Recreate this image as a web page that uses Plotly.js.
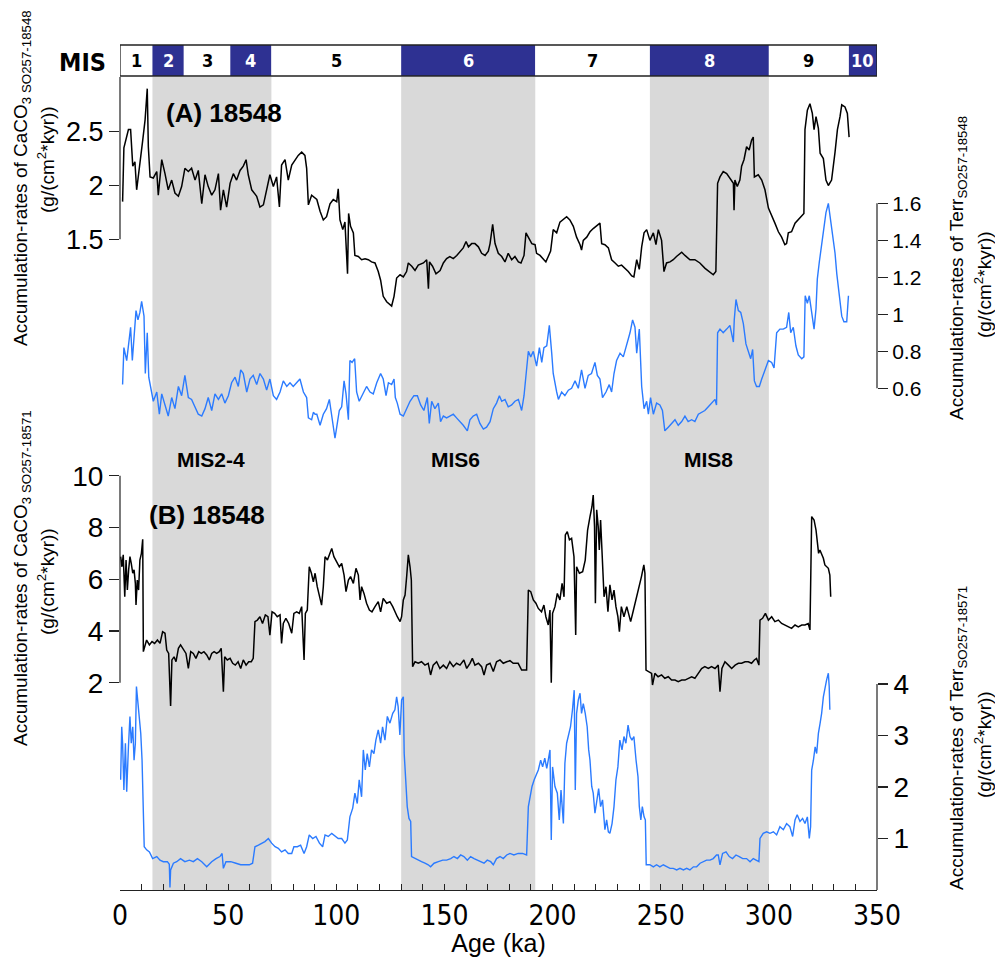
<!DOCTYPE html>
<html><head><meta charset="utf-8">
<script src="https://cdn.plot.ly/plotly-3.0.1.min.js"></script>
<style>html,body{margin:0;padding:0;background:#fff}#chart{width:995px;height:957px}</style>
</head><body><div id="chart"></div>
<script>
// ---------------- DATA ----------------
const ageCaco3A = [1.2,1.8,3.9,4.9,5.9,6.9,7.7,8.9,10.5,11.6,12.6,13.1,13.9,15.4,17.0,17.7,19.3,20.8,22.3,23.9,25.4,27.0,28.5,30.0,31.6,33.1,34.7,36.2,37.8,39.3,40.8,42.4,43.9,45.5,46.5,47.8,49.3,50.9,52.4,53.9,55.5,57.0,58.3,59.3,60.9,63.2,64.7,66.3,67.8,69.3,70.9,72.4,73.7,74.7,76.3,77.8,79.4,80.9,82.4,84.0,85.5,86.3,87.1,88.6,90.2,91.0,92.5,94.0,95.5,97.1,98.6,100.2,100.9,101.7,103.0,104.0,105.2,105.7,106.6,107.9,108.6,110.2,111.7,113.3,114.8,116.3,117.9,119.4,120.5,121.7,123.3,124.8,125.6,126.7,127.9,129.5,131.0,132.5,133.3,134.9,136.4,137.9,140.3,141.8,142.6,143.1,144.5,146.1,148.0,149.5,151.0,152.5,154.1,155.7,157.2,158.7,160.0,161.1,162.6,164.1,165.7,167.2,168.8,170.3,171.1,172.3,173.4,174.9,176.5,178.0,179.5,181.1,182.6,184.2,185.4,186.8,187.7,188.8,190.4,191.9,192.6,194.2,195.7,196.9,198.0,199.1,200.3,201.9,203.4,205.0,206.5,208.0,209.6,211.1,212.7,213.4,214.2,215.8,217.3,218.8,220.4,221.9,222.7,224.2,225.8,227.3,228.9,230.4,231.9,233.5,235.0,236.6,237.6,238.9,240.1,241.2,242.3,243.5,245.0,246.6,247.8,248.9,250.4,251.5,252.7,254.3,255.8,257.3,259.7,261.2,263.5,265.8,268.1,270.5,272.8,274.3,275.5,276.3,277.4,278.9,280.5,282.0,283.6,283.9,284.3,285.4,286.6,287.4,288.5,289.7,290.9,292.0,292.8,293.3,295.1,296.7,298.2,299.8,301.3,302.8,304.4,305.9,307.4,308.2,309.0,310.5,312.1,313.6,315.2,316.2,316.7,317.8,319.0,320.1,320.9,321.8,322.9,323.7,325.2,326.4,327.5,329.0,330.6,331.7,332.9,333.7,335.2,336.3,337.1];
const caco3A = [1.85,2.35,2.52,2.52,2.18,2.22,1.96,2.18,2.42,2.61,2.90,2.36,2.08,2.07,2.13,1.91,2.24,2.11,1.96,2.05,1.93,1.90,1.99,2.16,2.13,2.16,2.05,2.14,1.83,2.10,1.99,1.91,1.96,2.11,1.77,1.96,1.80,2.02,2.11,2.05,2.14,2.18,2.24,2.10,1.96,1.90,1.80,1.82,1.96,2.10,1.99,2.08,1.80,2.19,2.24,2.05,2.19,2.24,2.28,2.31,2.28,2.16,1.82,1.91,1.88,1.87,1.76,1.68,1.71,1.83,1.87,1.85,1.97,1.68,1.59,1.66,1.18,1.74,1.62,1.56,1.35,1.34,1.31,1.32,1.31,1.29,1.28,1.20,1.12,0.97,0.92,0.89,0.88,0.97,1.14,1.17,1.15,1.20,1.28,1.25,1.21,1.26,1.28,1.31,1.04,1.29,1.25,1.18,1.21,1.28,1.32,1.34,1.32,1.35,1.39,1.42,1.48,1.43,1.46,1.46,1.43,1.37,1.35,1.39,1.46,1.64,1.46,1.37,1.34,1.29,1.37,1.31,1.34,1.29,1.28,1.35,1.56,1.52,1.46,1.45,1.37,1.35,1.32,1.29,1.34,1.39,1.59,1.56,1.66,1.69,1.71,1.68,1.62,1.52,1.45,1.40,1.49,1.52,1.57,1.60,1.63,1.65,1.46,1.45,1.42,1.31,1.28,1.25,1.26,1.23,1.20,1.16,1.15,1.31,1.22,1.43,1.56,1.59,1.49,1.56,1.45,1.59,1.49,1.20,1.28,1.29,1.31,1.34,1.38,1.35,1.31,1.31,1.28,1.23,1.19,1.17,1.20,2.02,2.08,2.13,2.11,2.07,2.02,1.77,2.05,1.99,2.05,2.18,2.24,2.36,2.33,2.42,2.45,2.08,2.10,2.05,1.96,1.79,1.71,1.65,1.57,1.52,1.45,1.46,1.56,1.57,1.65,1.68,1.71,1.74,2.52,2.70,2.76,2.67,2.52,2.64,2.53,2.30,2.25,2.05,2.00,2.05,2.31,2.52,2.64,2.75,2.73,2.67,2.45];

const ageTerrA = [1.2,1.8,3.1,3.9,4.9,5.7,6.5,7.4,8.3,9.2,10.0,11.1,11.7,12.6,13.3,14.2,15.4,17.0,18.2,19.3,20.8,22.3,23.9,25.4,27.0,28.5,30.0,31.6,33.1,34.7,36.2,37.8,39.3,40.8,42.4,43.9,45.5,47.0,48.5,50.1,51.6,53.2,54.7,55.8,57.0,58.6,60.1,61.6,63.2,64.7,66.3,67.8,69.3,70.9,72.4,74.0,75.5,77.1,78.6,80.1,81.7,83.2,84.8,86.3,87.1,88.6,89.4,90.2,91.0,92.5,94.0,95.5,96.8,97.8,99.4,100.2,101.4,102.5,103.6,104.5,105.6,106.3,107.3,108.5,109.4,110.6,112.2,114.0,115.6,117.1,118.7,120.5,121.7,123.0,124.1,125.6,126.7,127.3,128.2,129.5,131.0,132.5,134.1,135.9,137.5,139.0,140.5,142.1,143.0,144.1,145.6,147.2,148.2,149.5,151.0,152.5,154.1,155.6,157.2,158.7,160.6,161.8,163.3,164.9,166.4,168.0,169.5,171.1,172.6,174.1,175.4,176.5,178.0,179.5,181.1,182.6,184.2,185.7,186.8,187.7,188.8,189.9,191.1,192.6,193.9,195.0,196.0,197.3,198.5,199.6,200.3,201.9,202.7,204.2,205.7,207.3,208.8,210.4,211.9,213.4,215.0,216.5,218.0,219.6,220.7,221.9,223.1,224.7,226.2,227.3,228.4,229.6,231.2,232.7,234.2,235.8,237.0,238.1,238.9,240.1,241.2,242.3,243.5,244.3,245.3,246.6,248.1,249.6,250.8,251.9,253.5,255.0,256.6,258.1,259.7,261.2,262.7,264.3,265.8,267.4,268.9,270.4,272.0,273.5,275.1,275.8,276.3,277.4,278.9,280.5,282.0,283.6,284.0,284.8,285.9,287.0,288.2,289.4,290.6,291.6,292.5,293.3,294.3,295.6,296.7,298.2,299.8,301.3,302.4,303.6,305.1,306.7,308.2,309.2,310.1,311.3,312.5,313.6,315.2,316.2,316.8,317.8,318.7,319.8,320.9,321.8,322.4,323.3,324.4,325.5,326.4,327.5,328.5,329.5,330.6,331.4,332.6,333.7,334.7,336.0,336.8];
const terrA = [0.62,0.82,0.75,0.83,0.93,0.75,0.86,1.02,0.97,1.01,1.07,0.99,0.68,0.90,0.66,0.61,0.53,0.58,0.46,0.57,0.51,0.45,0.55,0.49,0.61,0.56,0.67,0.55,0.54,0.50,0.46,0.45,0.49,0.55,0.48,0.57,0.54,0.57,0.52,0.56,0.63,0.66,0.61,0.70,0.68,0.58,0.65,0.67,0.62,0.68,0.65,0.59,0.65,0.56,0.54,0.58,0.64,0.61,0.63,0.61,0.63,0.65,0.58,0.55,0.44,0.43,0.47,0.46,0.46,0.40,0.46,0.49,0.54,0.46,0.33,0.39,0.48,0.50,0.64,0.57,0.43,0.75,0.74,0.76,0.58,0.53,0.57,0.61,0.58,0.57,0.63,0.68,0.65,0.56,0.63,0.62,0.65,0.55,0.52,0.46,0.45,0.49,0.53,0.56,0.56,0.51,0.48,0.55,0.41,0.53,0.49,0.52,0.42,0.45,0.44,0.45,0.46,0.44,0.42,0.40,0.37,0.43,0.45,0.46,0.41,0.38,0.39,0.42,0.49,0.52,0.56,0.53,0.54,0.50,0.51,0.53,0.54,0.48,0.56,0.68,0.80,0.77,0.80,0.72,0.82,0.74,0.82,0.83,0.94,0.79,0.68,0.58,0.54,0.58,0.56,0.59,0.60,0.64,0.60,0.70,0.60,0.67,0.68,0.74,0.67,0.65,0.55,0.58,0.62,0.58,0.68,0.75,0.79,0.77,0.83,0.90,0.97,0.93,0.79,0.92,0.61,0.49,0.53,0.46,0.55,0.46,0.52,0.51,0.48,0.37,0.39,0.41,0.43,0.40,0.42,0.45,0.42,0.43,0.42,0.46,0.47,0.48,0.50,0.52,0.54,0.51,0.90,0.92,0.90,0.92,0.94,0.85,0.97,1.08,1.02,1.01,0.95,0.84,0.80,0.76,0.81,0.64,0.61,0.61,0.65,0.70,0.75,0.74,0.71,0.90,0.92,0.92,0.93,1.01,0.90,0.93,0.83,0.78,0.76,0.77,1.10,1.06,1.10,1.01,0.92,1.03,1.19,1.28,1.38,1.47,1.55,1.60,1.51,1.44,1.33,1.22,1.10,0.99,0.96,0.96,1.10];

const ageCaco3B = [0.3,0.9,1.5,2.2,2.8,3.4,4.0,4.6,5.2,5.9,6.5,7.1,7.4,8.0,8.6,9.2,9.9,10.5,10.8,11.4,12.3,13.6,14.8,16.0,17.3,18.5,19.7,20.8,21.6,22.5,23.4,24.0,25.0,25.9,27.0,28.0,29.3,30.5,31.6,32.7,33.9,35.1,36.4,37.6,38.8,40.1,41.3,42.4,43.5,44.7,45.9,46.8,47.8,48.4,49.6,50.9,52.1,53.3,54.6,55.8,57.0,58.3,59.5,60.7,61.6,62.4,63.5,64.7,65.9,67.2,68.4,69.3,70.3,71.5,72.7,74.0,74.7,75.5,76.7,78.0,79.4,80.4,81.7,82.9,84.0,85.1,85.7,86.6,87.5,88.5,89.4,90.2,91.2,92.5,93.2,94.0,94.8,95.9,96.8,97.9,98.9,100.2,101.4,102.5,103.6,104.5,105.6,106.6,107.9,109.1,110.2,111.0,111.7,112.8,114.0,115.3,116.5,117.9,119.4,120.5,121.7,123.3,124.8,126.1,127.1,128.2,129.5,130.2,131.0,131.8,132.6,133.3,134.1,134.7,135.3,136.4,137.9,139.4,141.0,142.5,143.6,144.8,146.4,147.9,149.5,151.0,152.5,154.1,155.6,157.2,159.0,160.3,161.8,162.9,164.1,165.7,167.2,168.3,169.5,171.1,172.6,174.1,175.7,177.2,178.8,180.3,181.8,184.1,185.7,188.0,188.8,189.9,191.1,192.3,193.4,194.9,196.0,196.9,198.0,198.8,199.4,200.0,201.1,202.2,203.4,204.4,205.3,205.9,206.8,207.8,208.8,209.9,210.7,211.1,212.4,213.9,215.1,216.2,217.3,218.2,218.8,219.4,219.8,220.4,221.1,221.6,222.2,222.9,223.8,224.7,225.6,226.5,227.5,228.4,229.3,230.2,230.9,231.8,233.0,234.3,235.2,236.1,237.4,238.6,239.8,241.1,242.2,242.7,243.2,244.2,245.8,246.2,247.3,248.8,250.4,251.9,253.5,255.0,256.6,258.1,259.7,261.2,262.7,264.3,265.8,267.4,268.9,270.4,272.0,273.5,275.1,276.6,277.4,278.3,279.7,281.3,282.8,284.4,285.9,287.4,289.0,290.5,292.0,293.3,294.3,295.4,295.9,297.1,298.4,299.8,301.3,302.8,304.4,305.9,307.4,309.0,310.5,312.1,313.6,315.2,316.7,318.2,319.0,319.8,320.9,321.8,322.4,323.0,323.6,324.4,325.2,325.9,326.7,327.5,328.2,328.6];
const caco3B = [6.87,6.48,6.94,5.32,6.74,5.58,6.36,6.87,6.61,6.23,6.36,5.84,5.00,5.97,5.58,6.74,7.00,7.54,3.20,3.39,3.65,3.46,3.59,3.52,3.65,3.52,3.97,3.91,3.26,3.13,1.10,2.88,3.00,2.81,3.33,3.46,3.26,3.13,2.55,3.20,3.13,2.94,3.20,3.13,3.20,3.07,2.88,3.13,3.20,3.13,3.20,3.33,1.65,3.00,2.88,2.94,2.75,2.68,2.81,2.55,2.88,2.68,2.81,2.81,2.94,4.36,4.42,4.55,4.29,4.62,4.55,3.84,4.74,4.68,4.55,4.62,3.52,4.29,4.49,4.29,3.91,4.68,4.74,4.68,4.94,2.88,4.68,4.81,6.48,6.23,5.90,6.23,5.71,5.20,5.00,5.71,6.87,6.74,6.94,7.19,6.87,6.68,6.48,6.61,6.16,5.52,5.97,6.10,5.84,6.42,6.16,5.20,5.71,5.45,5.07,4.81,4.74,4.94,5.13,4.74,5.26,5.07,5.13,4.94,4.74,4.55,4.36,4.55,5.20,5.39,6.16,6.94,6.48,5.97,2.62,2.81,2.75,2.81,2.68,2.75,2.30,2.68,2.81,2.55,2.68,2.55,2.81,2.62,2.75,2.68,2.88,2.55,2.75,2.94,2.68,2.75,2.62,2.30,2.68,2.75,2.43,2.81,2.88,2.75,2.81,2.85,2.75,2.75,2.49,2.49,5.58,5.52,5.20,5.07,4.87,4.74,5.00,4.55,4.23,4.81,2.00,4.68,4.94,5.45,5.20,5.84,5.32,7.71,7.84,7.52,7.58,6.87,3.84,6.48,6.23,6.29,6.74,7.90,8.42,8.80,9.25,8.03,5.07,8.68,8.03,7.13,8.29,7.00,5.32,5.71,4.74,5.78,5.20,5.58,4.94,4.55,3.97,4.94,4.55,4.94,4.62,4.36,4.81,5.20,5.65,6.10,6.55,6.23,2.49,2.43,2.36,1.91,2.36,2.23,2.30,2.17,2.23,2.10,2.10,2.04,2.10,2.10,2.17,2.23,2.17,2.36,2.55,2.62,2.55,2.62,2.55,2.68,1.65,2.55,2.81,2.68,2.55,2.68,2.75,2.75,2.81,2.81,2.75,2.88,2.94,2.68,4.42,4.49,4.68,4.42,4.55,4.36,4.42,4.29,4.23,4.16,4.10,4.23,4.16,4.23,4.23,4.29,4.04,8.42,8.29,7.90,7.52,7.00,7.13,6.94,6.81,6.55,6.48,6.42,6.16,5.32];

const ageTerrB = [0.3,0.8,1.2,1.8,2.5,3.1,3.9,4.6,5.2,5.9,6.5,7.1,7.6,8.3,8.9,9.6,10.2,10.8,11.2,12.3,13.6,15.1,17.0,18.5,20.0,21.9,22.8,23.1,23.4,24.7,26.2,28.0,30.0,32.1,33.9,35.8,37.8,40.1,42.4,44.4,46.2,47.2,47.8,49.0,51.2,53.6,55.8,57.8,59.8,61.3,62.4,64.0,65.5,67.0,68.6,70.1,71.7,73.2,74.7,76.3,77.8,79.4,80.4,82.0,83.5,85.1,86.3,87.5,89.1,90.6,92.2,93.7,94.8,96.3,97.9,99.4,100.9,102.5,104.0,105.1,106.3,107.6,108.6,109.7,110.6,111.7,112.5,113.4,114.3,115.3,116.3,117.4,118.3,119.4,120.5,121.4,122.5,123.6,124.8,126.1,127.1,127.9,128.6,129.4,130.2,131.0,131.4,132.1,132.8,133.6,134.4,134.8,136.4,137.9,139.4,141.0,142.5,143.6,145.2,147.2,149.2,151.0,152.9,154.4,156.0,157.5,159.0,160.6,162.1,163.7,165.2,166.7,168.3,169.8,171.4,172.6,174.1,175.7,177.2,178.8,180.3,182.1,184.1,186.1,188.0,188.8,189.6,190.5,191.5,192.3,193.4,194.5,195.4,196.4,197.3,198.0,198.8,199.4,200.0,201.1,202.2,203.1,203.9,205.0,205.7,206.5,207.4,208.3,209.2,210.0,210.5,211.1,211.9,212.7,213.4,214.2,215.1,216.0,216.7,217.3,218.1,218.8,219.6,220.4,221.3,222.2,223.1,224.2,225.0,225.8,226.5,227.5,228.4,229.3,230.2,231.1,232.1,233.0,233.9,234.9,235.8,236.7,237.6,238.6,239.5,240.1,240.8,241.5,242.3,242.9,243.3,245.0,246.6,248.1,249.6,251.2,252.7,254.3,255.8,257.4,258.9,260.5,262.0,263.5,265.1,266.6,268.2,269.7,271.2,272.8,274.3,275.8,276.6,277.4,278.6,280.2,281.7,283.2,284.8,286.3,287.9,289.7,291.3,292.8,294.3,295.4,295.9,297.4,299.0,300.5,302.1,303.6,305.1,306.7,308.2,309.7,311.0,312.1,313.1,314.4,315.6,316.7,317.8,318.7,319.3,319.8,320.6,321.4,322.1,322.9,323.7,324.4,325.2,326.0,326.7,327.5,327.9,328.2];
const terrB = [2.14,3.17,2.85,1.94,2.85,1.91,2.78,3.37,2.85,3.17,2.52,2.85,3.95,3.62,3.37,3.04,2.52,1.55,0.84,0.78,0.74,0.61,0.65,0.58,0.55,0.55,0.50,0.05,0.39,0.52,0.55,0.61,0.55,0.58,0.55,0.61,0.55,0.45,0.55,0.61,0.65,0.71,0.42,0.55,0.55,0.52,0.49,0.49,0.49,0.52,0.84,0.87,0.91,0.94,1.00,0.91,0.84,0.81,0.74,0.78,0.71,0.71,0.84,0.84,0.87,0.71,0.84,1.07,1.00,1.04,0.91,0.84,1.07,1.04,1.10,1.04,1.00,1.00,0.91,0.97,1.42,1.59,1.88,1.68,2.14,1.81,2.72,2.33,2.65,2.39,2.72,2.65,2.91,3.11,2.85,3.17,2.91,3.37,3.24,3.43,3.50,3.75,3.56,3.01,3.69,3.75,2.65,2.14,1.62,1.39,1.33,0.65,0.61,0.58,0.55,0.52,0.49,0.45,0.52,0.55,0.58,0.58,0.61,0.65,0.61,0.68,0.65,0.58,0.65,0.61,0.58,0.55,0.52,0.58,0.55,0.49,0.61,0.65,0.61,0.68,0.71,0.68,0.71,0.71,0.68,1.62,1.81,2.01,2.14,2.23,2.33,2.52,2.39,2.56,2.36,2.52,2.72,0.97,2.39,2.01,1.88,1.36,1.94,1.29,2.46,2.85,3.04,3.17,3.50,3.88,1.94,3.43,3.69,3.82,3.43,3.62,3.43,3.17,2.72,2.52,2.01,1.88,1.49,1.75,1.97,1.62,1.75,1.17,1.36,1.13,1.10,1.29,1.62,2.14,2.39,2.91,2.72,2.98,2.85,3.20,2.98,2.91,2.98,2.52,2.20,1.62,1.36,1.62,1.42,1.36,0.49,0.49,0.45,0.49,0.45,0.49,0.45,0.42,0.42,0.39,0.42,0.39,0.42,0.39,0.45,0.45,0.52,0.55,0.58,0.58,0.61,0.68,0.68,0.49,0.71,0.74,0.65,0.61,0.68,0.65,0.61,0.61,0.55,0.61,0.58,0.55,1.00,1.10,1.13,1.10,1.13,1.07,1.23,1.17,1.29,1.23,1.04,1.36,1.46,1.33,1.39,1.29,1.42,1.00,1.23,2.33,2.52,2.78,2.65,3.04,3.24,3.43,3.75,3.95,4.08,4.21,3.95,3.50];

// Stage boundaries (ka) and labels
const misBounds = [0,15,29.5,51,70,130,192,245,300,337,350];
const misLabels = ['1','2','3','4','5','6','7','8','9','10'];
const glacialBands = [[15,70],[130,192],[245,300]];
const bandLabels = ['MIS2-4','MIS6','MIS8'];
const bandLabelAge = [42,155,272];

const xTicks = [0,50,100,150,200,250,300,350];
const caco3ATicks = [1.5,2,2.5];       const caco3ATickText = ['1.5','2','2.5'];
const terrATicks = [0.6,0.8,1,1.2,1.4,1.6]; const terrATickText = ['0.6','0.8','1','1.2','1.4','1.6'];
const caco3BTicks = [2,4,6,8,10];      const caco3BTickText = ['2','4','6','8','10'];
const terrBTicks = [1,2,3,4];          const terrBTickText = ['1','2','3','4'];

// ---------------- GEOMETRY ----------------
const W = 995, H = 957, L = 120, R = 877, T = 77, B = 890;
const px = p => (p - L) / (R - L);
const py = p => (B - p) / (B - T);
function rangeFor(v1, p1, v2, p2) {
  const k = (v2 - v1) / (p1 - p2);
  return [v1 - (B - p1) * k, v1 + (p1 - T) * k];
}
const rA1 = rangeFor(1.5, 239.3, 2.5, 131.7);
const rA2 = rangeFor(0.6, 388.3, 1.6, 203.3);
const rB1 = rangeFor(2, 682.7, 10, 475.7);
const rB2 = rangeFor(0, 890, 4, 684);

const SANS = 'Liberation Sans, Arial, Helvetica, sans-serif';
const NARROW = 'Liberation Sans Narrow, Arial Narrow, DejaVu Sans Condensed, Liberation Sans, Arial, sans-serif';
const BLUE = '#2b7bff';
const NAVY = '#2e3192';

const traces = [
  {x: ageCaco3A, y: caco3A, yaxis: 'y',  type: 'scatter', mode: 'lines', line: {color: '#000', width: 1.5}, hoverinfo: 'skip'},
  {x: ageTerrA,  y: terrA,  yaxis: 'y2', type: 'scatter', mode: 'lines', line: {color: BLUE, width: 1.4}, hoverinfo: 'skip'},
  {x: ageCaco3B, y: caco3B, yaxis: 'y3', type: 'scatter', mode: 'lines', line: {color: '#000', width: 1.5}, hoverinfo: 'skip'},
  {x: ageTerrB,  y: terrB,  yaxis: 'y4', type: 'scatter', mode: 'lines', line: {color: BLUE, width: 1.4}, hoverinfo: 'skip'}
];

const shapes = [];
glacialBands.forEach(b => shapes.push({type: 'rect', xref: 'x', yref: 'paper', x0: b[0], x1: b[1], y0: 0, y1: 1,
  fillcolor: '#d9d9d9', line: {width: 0}, layer: 'below'}));
// MIS bar
const barY0 = py(76), barY1 = py(45);
for (let i = 0; i < misLabels.length; i++) {
  const blue = (i % 2 === 1);
  shapes.push({type: 'rect', xref: 'x', yref: 'paper', x0: misBounds[i], x1: misBounds[i + 1], y0: barY0, y1: barY1,
    fillcolor: blue ? NAVY : '#ffffff', line: {width: 0}});
}
shapes.push({type: 'rect', xref: 'x', yref: 'paper', x0: 0, x1: 350, y0: barY0, y1: barY1, line: {color: '#222', width: 1.3}});
// axis spines
shapes.push({type: 'line', xref: 'paper', yref: 'y',  x0: 0, x1: 0, y0: 1.5, y1: rA1[1], line: {color: '#222', width: 1.2}});
shapes.push({type: 'line', xref: 'paper', yref: 'y2', x0: 1, x1: 1, y0: 0.6, y1: 1.6, line: {color: '#222', width: 1.2}});
shapes.push({type: 'line', xref: 'paper', yref: 'y3', x0: 0, x1: 0, y0: 2, y1: 10, line: {color: '#222', width: 1.2}});
shapes.push({type: 'line', xref: 'paper', yref: 'y4', x0: 1, x1: 1, y0: 0, y1: 4, line: {color: '#222', width: 1.2}});

const annotations = [];
for (let i = 0; i < misLabels.length; i++) {
  annotations.push({xref: 'x', yref: 'paper', x: (misBounds[i] + misBounds[i + 1]) / 2, y: (barY0 + barY1) / 2,
    text: '<b>' + misLabels[i] + '</b>', showarrow: false, xanchor: 'center', yanchor: 'middle',
    font: {family: NARROW, size: 18, color: (i % 2 === 1) ? '#ffffff' : '#000'}});
}
annotations.push({xref: 'paper', yref: 'paper', x: px(82), y: py(62), text: '<b>MIS</b>', showarrow: false,
  xanchor: 'center', yanchor: 'middle', font: {family: NARROW, size: 25, color: '#000'}});
bandLabels.forEach((t, i) => annotations.push({xref: 'x', yref: 'paper', x: bandLabelAge[i], y: py(460),
  text: '<b>' + t + '</b>', showarrow: false, xanchor: 'center', yanchor: 'middle', font: {family: SANS, size: 21, color: '#000'}}));
annotations.push({xref: 'paper', yref: 'paper', x: px(224), y: py(113), text: '<b>(A) 18548</b>', showarrow: false,
  xanchor: 'center', yanchor: 'middle', font: {family: SANS, size: 26, color: '#000'}});
annotations.push({xref: 'paper', yref: 'paper', x: px(207), y: py(515), text: '<b>(B) 18548</b>', showarrow: false,
  xanchor: 'center', yanchor: 'middle', font: {family: SANS, size: 26, color: '#000'}});

function vtitle(xp, yp, text) {
  annotations.push({xref: 'paper', yref: 'paper', x: px(xp), y: py(yp), text: text, textangle: -90, showarrow: false,
    xanchor: 'center', yanchor: 'middle', font: {family: SANS, size: 19, color: '#000'}});
}
const unitText = '(g/(cm<sup>2</sup>*kyr))';
vtitle(22, 178, 'Accumulation-rates of CaCO<sub>3 SO257-18548</sub>');
vtitle(46, 160, unitText);
vtitle(22, 578, 'Accumulation-rates of CaCO<sub>3 SO257-18571</sub>');
vtitle(46, 582, unitText);
vtitle(958, 268, 'Accumulation-rates of Terr<sub>SO257-18548</sub>');
vtitle(983, 285, unitText);
vtitle(958, 738, 'Accumulation-rates of Terr<sub>SO257-18571</sub>');
vtitle(983, 745, unitText);

const yBase = {domain: [0, 1], anchor: 'x', showgrid: false, zeroline: false, showline: false,
  ticks: 'outside', ticklen: 10, tickwidth: 1.2, tickcolor: '#222', fixedrange: true};

const layout = {
  width: W, height: H,
  margin: {l: L, r: W - R, t: T, b: H - B, autoexpand: false},
  paper_bgcolor: '#ffffff', plot_bgcolor: 'rgba(0,0,0,0)',
  showlegend: false,
  xaxis: {range: [0, 350], domain: [0, 1], anchor: 'y', showgrid: false, zeroline: false,
    showline: true, linecolor: '#222', linewidth: 1.2, mirror: false,
    ticks: 'inside', ticklen: 6, tickwidth: 1.2, tickcolor: '#222',
    tickvals: xTicks, ticktext: xTicks.map(String),
    minor: {ticks: 'inside', dtick: 10, ticklen: 6, tickwidth: 1, tickcolor: '#222'},
    tickfont: {family: NARROW, size: 28, color: '#000'},
    title: {text: 'Age (ka)', font: {family: SANS, size: 25, color: '#000'}, standoff: 6}},
  yaxis: Object.assign({}, yBase, {side: 'left', range: rA1, tickvals: caco3ATicks, ticktext: caco3ATickText,
    tickfont: {family: SANS, size: 27, color: '#000'}}),
  yaxis2: Object.assign({}, yBase, {side: 'right', overlaying: 'y', range: rA2, tickvals: terrATicks, ticktext: terrATickText,
    tickfont: {family: SANS, size: 21, color: '#000'}}),
  yaxis3: Object.assign({}, yBase, {side: 'left', overlaying: 'y', range: rB1, tickvals: caco3BTicks, ticktext: caco3BTickText,
    tickfont: {family: SANS, size: 28, color: '#000'}}),
  yaxis4: Object.assign({}, yBase, {side: 'right', overlaying: 'y', range: rB2, tickvals: terrBTicks, ticktext: terrBTickText,
    tickfont: {family: SANS, size: 28, color: '#000'}}),
  shapes: shapes,
  annotations: annotations
};

Plotly.newPlot('chart', traces, layout, {staticPlot: true, displayModeBar: false});
</script>
</body></html>
